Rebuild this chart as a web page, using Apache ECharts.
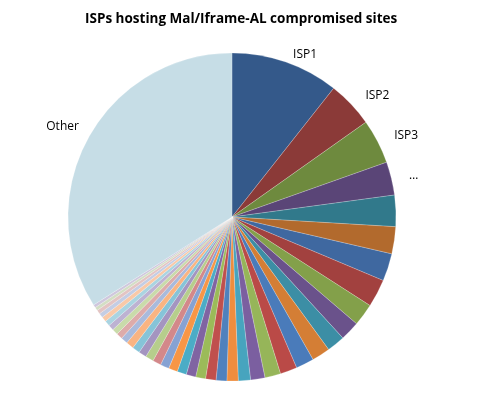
<!DOCTYPE html>
<html>
<head>
<meta charset="utf-8">
<script src="https://cdn.jsdelivr.net/npm/echarts@6/dist/echarts.min.js"></script>
<style>html,body{margin:0;padding:0;background:#fff;}#c{width:489px;height:395px;}</style>
</head>
<body>
<div id="c"></div>
<script>
const titleText = 'ISPs hosting Mal/Iframe-AL compromised sites';
const categories = ['ISP1','ISP2','ISP3','ISP4','ISP5','ISP6','ISP7','ISP8','ISP9','ISP10',
  'ISP11','ISP12','ISP13','ISP14','ISP15','ISP16','ISP17','ISP18','ISP19','ISP20',
  'ISP21','ISP22','ISP23','ISP24','ISP25','ISP26','ISP27','ISP28','ISP29','ISP30',
  'ISP31','ISP32','ISP33','ISP34','ISP35','ISP36','ISP37','ISP38','ISP39','ISP40','Other'];
const values = [38.3,16.4,15.8,11.8,11.1,9.6,9.8,9.9,7.9,6.9,
  6.4,6.5,6.4,6.0,5.6,5.1,4.3,4.0,3.8,3.7,
  3.5,3.4,3.3,3.2,3.1,3.0,2.9,2.8,2.7,2.7,
  2.4,2.2,2.1,2.0,1.9,1.8,1.6,1.4,1.2,1.1,122.4];
const shownLabels = {'ISP1':'ISP1','ISP2':'ISP2','ISP3':'ISP3','ISP4':'\u2026','Other':'Other'};
const colors = [
  '#34598A','#8B3A38','#6E8A3E','#5A4577','#31798B','#B26A2D',
  '#3F68A0','#A2413F','#83A04A','#6A528B','#3C8EA5','#D47E35',
  '#4A7BBA','#BA4A47','#96B559','#7B5FA0','#47A4BE','#EE8D3E',
  '#4F81BD','#C0504D','#9BBB59','#8064A2','#4BACC6','#F79646',
  '#86A2D3','#D3888A','#B6CE8C','#A495C0','#86C4D8','#F9B482',
  '#A9BADC','#DDABAA','#C9DBAA','#BDB2D2','#AAD4E1','#F9C9A8',
  '#C4CDE4','#E3C4C3','#D3DEC4','#CFC7DD',
  '#C6DDE6'];

const chart = echarts.init(document.getElementById('c'), null, {renderer:'canvas'});
const data = categories.map((name, i) => {
  const lab = shownLabels[name];
  return {
    name: name,
    value: values[i],
    itemStyle: {color: colors[i]},
    label: lab ? {show: true, formatter: lab} : {show: false}
  };
});
chart.setOption({
  animation: false,
  title: {
    text: titleText,
    left: 80,
    top: 7,
    textStyle: {fontFamily: 'Open Sans', fontWeight: 'bold', fontSize: 13.5, color: '#000'}
  },
  series: [{
    type: 'pie',
    center: [232, 217],
    radius: [0, 164],
    startAngle: 90,
    clockwise: true,
    avoidLabelOverlap: false,
    data: data,
    itemStyle: {borderColor: 'rgba(255,255,255,0.35)', borderWidth: 0.6},
    label: {
      position: 'outside',
      fontFamily: 'Open Sans',
      fontSize: 12,
      color: '#000',
      distanceToLabelLine: 5
    },
    labelLine: {show: false, length: 13, length2: 0},
    labelLayout: function (p) {
      if (p.dataIndex === 0) return {dx: -2, dy: 5};
      if (p.dataIndex === values.length - 1) return {dx: 7, dy: -5};
      return {};
    },
    emphasis: {disabled: true}
  }]
});
</script>
</body>
</html>
